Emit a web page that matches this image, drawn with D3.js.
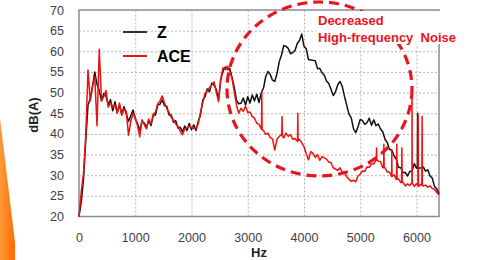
<!DOCTYPE html>
<html>
<head>
<meta charset="utf-8">
<script src="https://cdn.jsdelivr.net/npm/d3@7"></script>
<style>
    html, body { margin: 0; padding: 0; background: #fff; }
    svg { display: block; }
    .axis text { font-family: "Liberation Sans", Arial, sans-serif; font-size: 12.5px; fill: #404040; }
    .label { font-family: "Liberation Sans", Arial, sans-serif; font-weight: bold; }
</style>
</head>
<body>
<div id="chart"></div>
<script>
'use strict';

// spectra sampled every 40 Hz, 0..6400 Hz
var freqStep = 40;

var zValues = [
    20, 23.5, 29, 38.5, 47, 48.5, 51.5, 55, 52, 50.5,
    48, 49.8, 49.2, 47, 48.3, 45.6, 47.8, 45.2, 47, 44.8,
    46.6, 44.9, 43, 44.4, 45.8, 43.6, 42.5, 40.8, 43, 42.6,
    41.6, 43.3, 42, 44.5, 44.6, 47, 47.2, 48.2, 46.8, 46.7,
    44.6, 44.6, 42.8, 43.2, 41.4, 41.6, 40.5, 41.9, 40.8, 42.5,
    41, 42.2, 40.8, 43, 44.6, 48.2, 49, 50.9, 50.2, 52.3,
    51.8, 50.8, 48.3, 53.2, 55.1, 56.2, 55.6, 55.9, 53.7, 51.3,
    48.1, 47.3, 47.4, 48.7, 47, 49, 47.5, 49.4, 48, 49.6,
    47.6, 49.9, 51.1, 53.9, 55.1, 54.4, 53, 52.7, 54.6, 57.5,
    59.1, 61.4, 61.2, 60.7, 59.4, 59.7, 60.2, 61.9, 62.6, 64.2,
    61.2, 60.6, 58, 57.9, 57.8, 57.7, 55.8, 55.9, 54.8, 54.2,
    52.8, 52.2, 50.8, 49.3, 50.2, 51.9, 52.7, 51.5, 49.1, 46.9,
    44.8, 43.9, 41.2, 40.3, 41.7, 43.5, 43.2, 42.3, 42.7, 43.8,
    42.1, 43.4, 42, 42.4, 41.2, 40.5, 38.7, 37.9, 36.2, 36.1,
    34.7, 33.9, 31.9, 31.8, 30.6, 30.7, 29.8, 30.9, 31, 32.8,
    31.7, 31.7, 31.8, 32, 31, 31.3, 29.8, 29.3, 27.3, 26.7,
    25.5
];

var aceValues = [
    20, 26, 30.5, 39.5, 55.5, 48, 51.5, 53.8, 42, 60.5,
    48, 49, 50.5, 46.5, 47.5, 46.5, 47, 45, 47.5, 44.5,
    46, 45.5, 39.7, 43, 45, 44, 42, 39.3, 43.4, 42.2,
    41.2, 43.6, 42.4, 44.8, 45.3, 47.3, 48, 49.2, 47.4, 46.2,
    45.2, 44, 43.4, 42.4, 41.8, 40.6, 39.8, 41.2, 41.5, 41.9,
    41.6, 41.3, 41.3, 42.5, 45.2, 47.6, 49.8, 50.4, 51.2, 51.8,
    52.6, 50.2, 47.8, 53.4, 56, 55.6, 56.4, 55.2, 53.5, 50.2,
    47, 45, 46.2, 45.5, 46.7, 45.2, 45.3, 44.2, 43.8, 42.6,
    42.3, 41.2, 40.8, 39.9, 40.2, 39.1, 38.8, 36.1, 38.7, 39.4,
    39.8, 39, 40.2, 39.4, 39.8, 38.7, 38.9, 38.2, 38.7, 37.8,
    36.9, 35.2, 33.7, 35.7, 35.3, 34.3, 35, 33.6, 34.5, 34.2,
    33.9, 33.2, 33, 31.8, 31.5, 31.2, 31.8, 30.7, 30.7, 29.6,
    29, 28.5, 28.8, 28.4, 29.8, 30.3, 31, 30.9, 32, 31.9,
    32.8, 32.7, 33.7, 33.4, 33.3, 31.8, 31.8, 30.8, 30.8, 29.7,
    30.1, 29, 29.1, 28.2, 28.3, 27.4, 27.9, 27.5, 28.1, 27.3,
    27.9, 27.3, 27.8, 27.4, 27.6, 27.1, 27.4, 26.8, 26.6, 25.8,
    25.2
];

// narrow tonal peaks [Hz, dB]
var zSpikes = [[6020, 45]];
var aceSpikes = [
    [3250, 50], [3610, 44.2], [3890, 45], [5290, 36.6], [5420, 37.5],
    [5560, 36], [5650, 37.5], [5740, 36.6], [5920, 50.2], [6030, 44.6], [6100, 44.2]
];

var seriesNames = ['Z', 'ACE'];
var xTicks = [0, 1000, 2000, 3000, 4000, 5000, 6000];
var yTicks = [20, 25, 30, 35, 40, 45, 50, 55, 60, 65, 70];
var noteLines = ['Decreased', 'High-frequency  Noise'];

var width = 479,
    height = 260;

var plot = { left: 79, top: 10, right: 439, bottom: 216.5 };

var x = d3.scaleLinear().domain([0, 6400]).range([plot.left, plot.right]);
var y = d3.scaleLinear().domain([20, 70]).range([plot.bottom, plot.top]);

var svg = d3.select('#chart').append('svg')
    .attr('width', width).attr('height', height)
    .attr('viewBox', '0 0 ' + width + ' ' + height);

// orange slide decoration on the left edge
var grad = svg.append('defs').append('linearGradient')
    .attr('id', 'orange').attr('x1', 0).attr('x2', 1).attr('y1', 0).attr('y2', 0);
grad.append('stop').attr('offset', 0).attr('stop-color', '#ff9a3a');
grad.append('stop').attr('offset', 1).attr('stop-color', '#ff6a00');
svg.append('polygon')
    .attr('points', '0,118 15,243 15,260 0,260')
    .attr('fill', 'url(#orange)');

// grid
svg.append('g').attr('class', 'grid')
    .attr('transform', 'translate(0,' + plot.bottom + ')')
    .call(d3.axisBottom(x).tickValues(xTicks.slice(1)).tickSize(-(plot.bottom - plot.top)).tickFormat(''))
    .call(function(g){ g.select('.domain').remove(); });
svg.append('g').attr('class', 'grid')
    .attr('transform', 'translate(' + plot.left + ',0)')
    .call(d3.axisLeft(y).tickValues(yTicks.slice(1, -1)).tickSize(-(plot.right - plot.left)).tickFormat(''))
    .call(function(g){ g.select('.domain').remove(); });
svg.selectAll('.grid line')
    .attr('stroke', '#b4b4b4').attr('stroke-width', 1).attr('stroke-dasharray', '2,2');

// axes labels
svg.append('g').attr('class', 'axis')
    .attr('transform', 'translate(0,' + plot.bottom + ')')
    .call(d3.axisBottom(x).tickValues(xTicks).tickSize(0).tickPadding(17).tickFormat(d3.format('d')))
    .call(function(g){ g.select('.domain').remove(); });
svg.append('g').attr('class', 'axis')
    .attr('transform', 'translate(' + plot.left + ',0)')
    .call(d3.axisLeft(y).tickValues(yTicks).tickSize(0).tickPadding(15))
    .call(function(g){ g.select('.domain').remove(); });

// frame
svg.append('rect')
    .attr('x', plot.left).attr('y', plot.top)
    .attr('width', plot.right - plot.left).attr('height', plot.bottom - plot.top)
    .attr('fill', 'none').attr('stroke', '#8c8c8c').attr('stroke-width', 1.5);

function withSpikes(values, spikes){
    var pts = values.map(function(v, i){ return [i * freqStep, v]; });
    spikes.forEach(function(s){
        var i = Math.floor(s[0] / freqStep),
            t = (s[0] - i * freqStep) / freqStep,
            base = values[i] + (values[i + 1] - values[i]) * t;
        pts.push([s[0] - 5, base], [s[0], s[1]], [s[0] + 5, base]);
    });
    return pts.sort(function(a, b){ return a[0] - b[0]; });
}

var line = d3.line()
    .x(function(d){ return x(d[0]); })
    .y(function(d){ return y(d[1]); });

var series = [
    { name: seriesNames[0], pts: withSpikes(zValues, zSpikes), color: '#111111' },
    { name: seriesNames[1], pts: withSpikes(aceValues, aceSpikes), color: '#ee1111' }
];

svg.append('g').selectAll('path.series')
    .data(series).enter().append('path')
        .attr('class', 'series')
        .attr('d', function(d){ return line(d.pts); })
        .attr('fill', 'none')
        .attr('stroke', function(d){ return d.color; })
        .attr('stroke-width', 1.5)
        .attr('stroke-linejoin', 'round');

// legend
var legend = svg.append('g').selectAll('g')
    .data(series).enter().append('g')
        .attr('transform', function(d, i){ return 'translate(123,' + (32 + i * 24) + ')'; });
legend.append('line')
    .attr('x1', 0).attr('x2', 24)
    .attr('stroke', function(d){ return d.color === '#111111' ? '#333' : d.color; })
    .attr('stroke-width', 2);
legend.append('text').attr('class', 'label')
    .attr('x', 34).attr('y', 6)
    .style('font-size', '16px').attr('fill', '#000')
    .text(function(d){ return d.name; });

// dashed ellipse and annotation
svg.append('ellipse')
    .attr('cx', 319.5).attr('cy', 89).attr('rx', 92.5).attr('ry', 87)
    .attr('fill', 'none').attr('stroke', '#e8141e')
    .attr('stroke-width', 3.2).attr('stroke-dasharray', '10,6');

svg.append('rect')
    .attr('x', 316).attr('y', 11).attr('width', 150).attr('height', 33)
    .attr('fill', '#fff');
svg.append('g').selectAll('text')
    .data(noteLines).enter().append('text')
        .attr('class', 'label')
        .attr('x', 318).attr('y', function(d, i){ return 25 + i * 17; })
        .style('font-size', '13px').style('white-space', 'pre')
        .attr('fill', '#e8141e')
        .text(function(d){ return d; });

// axis titles
svg.append('text').attr('class', 'label')
    .attr('transform', 'translate(38,115)rotate(-90)')
    .attr('text-anchor', 'middle').style('font-size', '13px').attr('fill', '#222')
    .text('dB(A)');
svg.append('text').attr('class', 'label')
    .attr('x', 259).attr('y', 257)
    .attr('text-anchor', 'middle').style('font-size', '13px').attr('fill', '#222')
    .text('Hz');
</script>
</body>
</html>
